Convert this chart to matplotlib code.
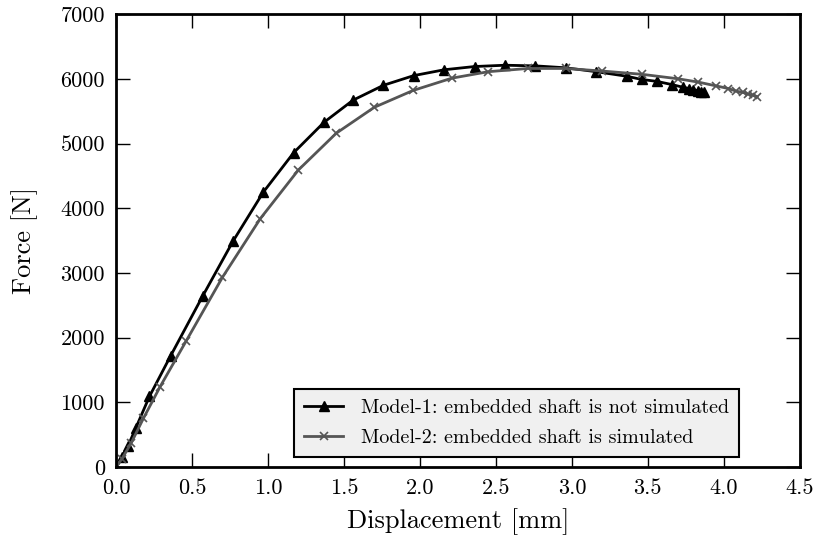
import numpy as np
import matplotlib
matplotlib.use("Agg")
import matplotlib.pyplot as plt

# Model-1: embedded shaft is not simulated
disp_m1 = [0.0, 0.04, 0.08, 0.13, 0.22, 0.36, 0.57, 0.77, 0.97, 1.17, 1.37, 1.56,
           1.76, 1.96, 2.16, 2.36, 2.56, 2.76, 2.96, 3.16, 3.36, 3.46, 3.56, 3.66,
           3.73, 3.77, 3.80, 3.83, 3.85, 3.87]
force_m1 = [0, 150, 330, 600, 1090, 1720, 2640, 3490, 4250, 4860, 5330, 5670,
            5900, 6050, 6140, 6190, 6210, 6200, 6170, 6110, 6040, 5990, 5960, 5910,
            5870, 5850, 5830, 5815, 5800, 5790]

# Model-2: embedded shaft is simulated
disp_m2 = [0.0, 0.04, 0.10, 0.18, 0.29, 0.46, 0.70, 0.95, 1.20, 1.45, 1.70, 1.955,
           2.21, 2.45, 2.71, 2.96, 3.20, 3.46, 3.70, 3.83, 3.95, 4.03, 4.08, 4.125,
           4.16, 4.19, 4.22]
force_m2 = [0, 130, 370, 750, 1240, 1940, 2930, 3840, 4590, 5160, 5560, 5820,
            6010, 6110, 6160, 6160, 6120, 6070, 6000, 5950, 5890, 5850, 5810, 5790,
            5765, 5745, 5725]

xticks = [0.0, 0.5, 1.0, 1.5, 2.0, 2.5, 3.0, 3.5, 4.0, 4.5]
yticks = [0, 1000, 2000, 3000, 4000, 5000, 6000, 7000]

plt.rcParams['font.family'] = 'cmr10'
plt.rcParams['mathtext.fontset'] = 'cm'
plt.rcParams['axes.formatter.use_mathtext'] = True

fig = plt.figure(figsize=(8.18, 5.43), dpi=100)
ax = fig.add_axes([0.1418, 0.14, 0.836, 0.834])

ax.plot(disp_m1, force_m1, color='black', lw=2, marker='^', ms=7,
        label='Model-1: embedded shaft is not simulated')
ax.plot(disp_m2, force_m2, color='#555555', lw=2, marker='x', ms=6, mew=1.2,
        label='Model-2: embedded shaft is simulated')

ax.set_xlim(0, 4.5)
ax.set_ylim(0, 7000)
ax.set_xticks(xticks)
ax.set_yticks(yticks)
ax.set_xticklabels(['%.1f' % t for t in xticks])
ax.set_yticklabels([str(t) for t in yticks])
ax.tick_params(direction='in', top=True, right=True, length=10, width=1,
               labelsize=16, pad=8)
for s in ax.spines.values():
    s.set_linewidth(2)

ax.set_xlabel('Displacement [mm]', fontsize=19, labelpad=8)
ax.set_ylabel('Force [N]', fontsize=19, labelpad=16)

leg = ax.legend(loc='lower right', bbox_to_anchor=(0.911, 0.022), fontsize=14.5,
                fancybox=False, framealpha=1, borderaxespad=0, borderpad=0.5,
                handlelength=1.9, handletextpad=0.9, labelspacing=0.6)
leg.get_frame().set_facecolor('#f0f0f0')
leg.get_frame().set_edgecolor('black')
leg.get_frame().set_linewidth(1.5)

fig.savefig('out.png', dpi=100)
